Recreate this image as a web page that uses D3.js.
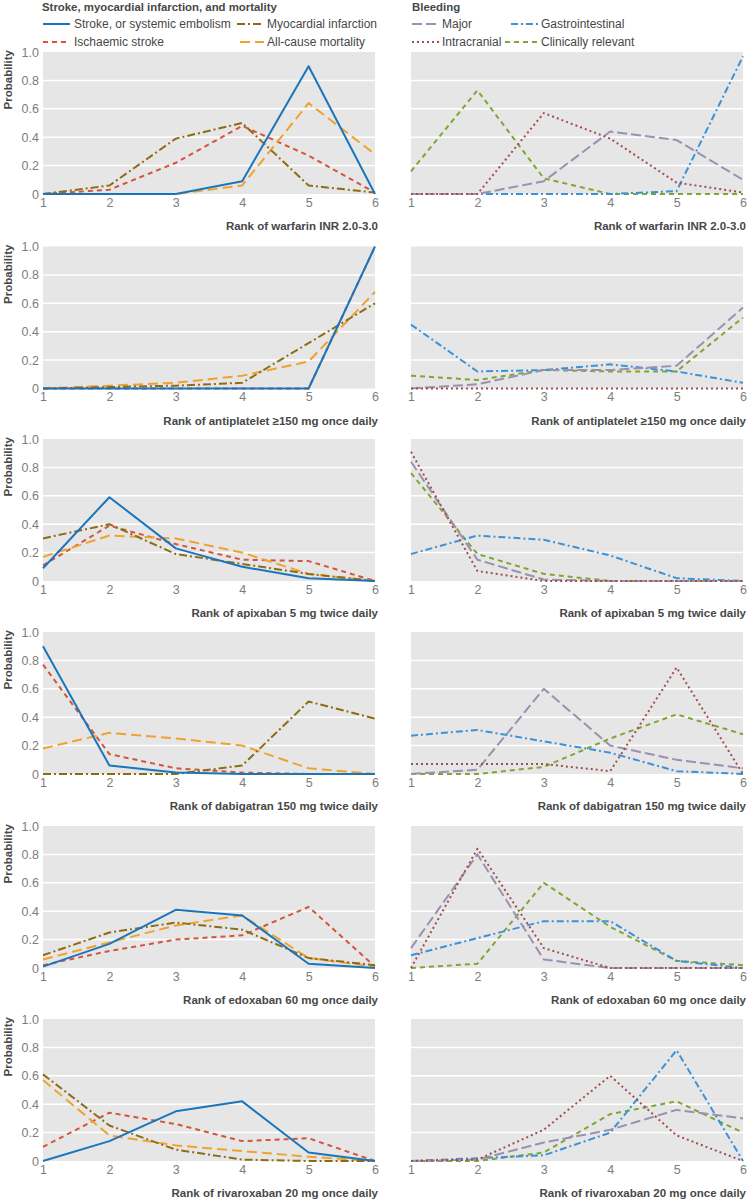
<!DOCTYPE html>
<html><head><meta charset="utf-8">
<script src="https://cdn.jsdelivr.net/npm/d3@7"></script>
<style>
body{margin:0;background:#fff}
svg{display:block}
text{font-family:"Liberation Sans", Arial, sans-serif}
</style>
</head><body>
<svg id="c" width="747" height="1200"></svg>
<script>
// ---------- DATA ----------
const ranks = [1, 2, 3, 4, 5, 6];
const drugs = [
  "warfarin INR 2.0-3.0",
  "antiplatelet ≥150 mg once daily",
  "apixaban 5 mg twice daily",
  "dabigatran 150 mg twice daily",
  "edoxaban 60 mg once daily",
  "rivaroxaban 20 mg once daily"
];
const yTicks = [0, 0.2, 0.4, 0.6, 0.8, 1.0];
const yTickLabels = ["0", "0.2", "0.4", "0.6", "0.8", "1.0"];

// Efficacy outcomes: one row per drug, values for ranks 1..6
const strokeSystemic = [
  [0, 0, 0, 0.09, 0.90, 0],
  [0, 0, 0, 0, 0, 1.0],
  [0.09, 0.59, 0.23, 0.10, 0.02, 0],
  [0.90, 0.06, 0.01, 0, 0, 0],
  [0.01, 0.17, 0.41, 0.37, 0.03, 0],
  [0, 0.14, 0.35, 0.42, 0.06, 0]
];
const myocardial = [
  [0, 0.06, 0.39, 0.50, 0.06, 0.01],
  [0, 0.01, 0.02, 0.04, 0.32, 0.60],
  [0.30, 0.40, 0.19, 0.12, 0.05, 0],
  [0, 0, 0, 0.06, 0.51, 0.39],
  [0.09, 0.25, 0.32, 0.27, 0.07, 0.02],
  [0.61, 0.25, 0.08, 0.01, 0, 0]
];
const ischaemic = [
  [0, 0.03, 0.22, 0.48, 0.27, 0.01],
  [0, 0, 0, 0, 0, 1.0],
  [0.11, 0.39, 0.26, 0.15, 0.14, 0],
  [0.77, 0.14, 0.04, 0.01, 0, 0],
  [0.02, 0.12, 0.20, 0.23, 0.43, 0.01],
  [0.10, 0.34, 0.26, 0.14, 0.16, 0]
];
const allCause = [
  [0, 0, 0, 0.06, 0.64, 0.28],
  [0, 0.02, 0.04, 0.09, 0.19, 0.68],
  [0.17, 0.32, 0.30, 0.20, 0.05, 0],
  [0.18, 0.29, 0.25, 0.20, 0.04, 0],
  [0.06, 0.18, 0.30, 0.37, 0.07, 0.01],
  [0.57, 0.18, 0.11, 0.07, 0.03, 0]
];
// Bleeding outcomes
const major = [
  [0, 0, 0.09, 0.44, 0.38, 0.10],
  [0, 0.03, 0.13, 0.13, 0.16, 0.57],
  [0.84, 0.15, 0.01, 0, 0, 0],
  [0, 0.03, 0.60, 0.20, 0.10, 0.04],
  [0.14, 0.80, 0.06, 0, 0, 0],
  [0, 0.01, 0.13, 0.22, 0.36, 0.30]
];
const gastro = [
  [0, 0, 0, 0, 0.02, 0.97],
  [0.45, 0.12, 0.13, 0.17, 0.12, 0.04],
  [0.19, 0.32, 0.29, 0.18, 0.02, 0],
  [0.27, 0.31, 0.23, 0.15, 0.02, 0],
  [0.09, 0.21, 0.33, 0.33, 0.05, 0],
  [0, 0.02, 0.04, 0.20, 0.78, 0]
];
const intracranial = [
  [0, 0, 0.57, 0.39, 0.08, 0.01],
  [0, 0, 0, 0, 0, 0],
  [0.91, 0.07, 0, 0, 0, 0],
  [0.07, 0.07, 0.07, 0.02, 0.75, 0],
  [0, 0.84, 0.14, 0, 0, 0],
  [0, 0.01, 0.22, 0.60, 0.18, 0]
];
const clinical = [
  [0.16, 0.73, 0.11, 0, 0, 0],
  [0.09, 0.06, 0.13, 0.12, 0.12, 0.50],
  [0.76, 0.19, 0.05, 0, 0, 0],
  [0, 0, 0.05, 0.25, 0.42, 0.28],
  [0, 0.03, 0.60, 0.29, 0.05, 0.02],
  [0, 0, 0.06, 0.33, 0.42, 0.20]
];

// ---------- STYLE ----------
const leftSeries = [
  {name: "Ischaemic stroke", data: ischaemic, color: "#d4553b", dash: "5,4"},
  {name: "All-cause mortality", data: allCause, color: "#f0a22e", dash: "10,5"},
  {name: "Myocardial infarction", data: myocardial, color: "#8d6c14", dash: "8,3,2,3"},
  {name: "Stroke, or systemic embolism", data: strokeSystemic, color: "#1b75bb", dash: null}
];
const rightSeries = [
  {name: "Clinically relevant", data: clinical, color: "#7fa632", dash: "5,4"},
  {name: "Gastrointestinal", data: gastro, color: "#3b92d8", dash: "7,3,2,3"},
  {name: "Major", data: major, color: "#9a90b0", dash: "10,4"},
  {name: "Intracranial", data: intracranial, color: "#a34e4e", dash: "2,3"}
];

const svg = d3.select("#c");
const cols = [{x0: 43, x1: 375, series: leftSeries, yLabels: true},
              {x0: 411, x1: 743, series: rightSeries, yLabels: false}];
const rowTops = [52, 246.5, 439, 632, 826, 1019];
const ph = 142;
const textDark = "#474747", tickGray = "#7d7d7d";
const FONT = '"Liberation Sans", Arial, sans-serif';

// ---------- LEGENDS ----------
function legend(header, hx, items) {
  svg.append("text").attr("x", hx).attr("y", 11)
    .attr("font-size", 11.4).attr("font-weight", "bold").attr("fill", textDark).text(header);
  items.forEach(it => {
    const s = it.s;
    svg.append("line").attr("x1", it.lx0).attr("x2", it.lx1).attr("y1", it.y).attr("y2", it.y)
      .attr("stroke", s.color).attr("stroke-width", 2)
      .attr("stroke-dasharray", s.dash);
    svg.append("text").attr("x", it.tx).attr("y", it.y + 4.3)
      .attr("font-size", 12).attr("fill", textDark).text(s.name);
  });
}
legend("Stroke, myocardial infarction, and mortality", 42, [
  {s: leftSeries[3], lx0: 43, lx1: 70, tx: 74, y: 24},
  {s: leftSeries[2], lx0: 237, lx1: 264, tx: 267, y: 24},
  {s: leftSeries[0], lx0: 43, lx1: 70, tx: 74, y: 42},
  {s: leftSeries[1], lx0: 240, lx1: 264, tx: 267, y: 42}
]);
legend("Bleeding", 412, [
  {s: rightSeries[2], lx0: 412, lx1: 439, tx: 442, y: 24},
  {s: rightSeries[1], lx0: 511, lx1: 538, tx: 541, y: 24},
  {s: rightSeries[3], lx0: 412, lx1: 439, tx: 442, y: 42},
  {s: rightSeries[0], lx0: 505, lx1: 537, tx: 541, y: 42}
]);

// ---------- PANELS ----------
rowTops.forEach((top, r) => {
  cols.forEach(col => {
    const x = d3.scaleLinear().domain([1, 6]).range([col.x0, col.x1]);
    const y = d3.scaleLinear().domain([0, 1]).range([top + ph, top]);
    const g = svg.append("g");
    g.append("rect").attr("x", col.x0).attr("y", top)
      .attr("width", col.x1 - col.x0).attr("height", ph).attr("fill", "#e6e6e6");
    g.selectAll(".grid").data(yTicks.filter(t => t > 0 && t < 1)).enter().append("line")
      .attr("x1", col.x0).attr("x2", col.x1)
      .attr("y1", d => y(d)).attr("y2", d => y(d))
      .attr("stroke", "#fff").attr("stroke-width", 1.5);

    // x axis
    const xa = g.append("g").attr("transform", `translate(0,${top + ph})`)
      .call(d3.axisBottom(x).tickValues(ranks).tickSize(0).tickPadding(4).tickFormat(d3.format("d")));
    xa.select(".domain").remove();
    xa.selectAll("text").attr("font-size", 12.5).attr("fill", tickGray).style("font-family", FONT);

    if (col.yLabels) {
      const ya = g.append("g").attr("transform", `translate(${col.x0},0)`)
        .call(d3.axisLeft(y).tickValues(yTicks).tickSize(0).tickPadding(4)
          .tickFormat((d, i) => yTickLabels[i]));
      ya.select(".domain").remove();
      ya.selectAll("text").attr("font-size", 12.5).attr("fill", tickGray).style("font-family", FONT);
      g.append("text")
        .attr("transform", `translate(11.5,${top - 2}) rotate(-90)`)
        .attr("text-anchor", "end").attr("font-size", 11.5).attr("font-weight", "bold")
        .attr("fill", textDark).text("Probability");
    }

    g.append("text").attr("x", col.x1 + 3).attr("y", top + ph + 36)
      .attr("text-anchor", "end").attr("font-size", 11.5).attr("font-weight", "bold")
      .attr("fill", textDark).text("Rank of " + drugs[r]);

    const line = d3.line().x((d, i) => x(ranks[i])).y(d => y(d));
    col.series.forEach(s => {
      g.append("path").datum(s.data[r])
        .attr("d", line).attr("fill", "none")
        .attr("stroke", s.color).attr("stroke-width", 2)
        .attr("stroke-linejoin", "round")
        .attr("stroke-dasharray", s.dash);
    });
  });
});
</script>
</body></html>
